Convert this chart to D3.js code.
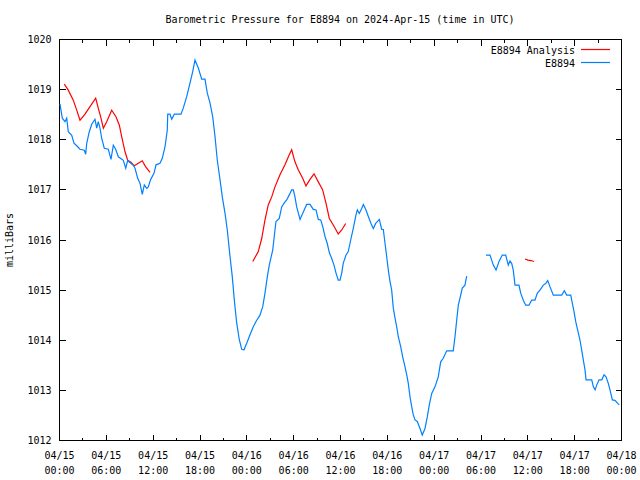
<!DOCTYPE html>
<html>
<head>
<meta charset="utf-8">
<script src="https://cdn.jsdelivr.net/npm/d3@7"></script>
<style>
  html, body { margin: 0; padding: 0; background: #fff; }
  svg { display: block; }
  text { font-family: "DejaVu Sans Mono", "Liberation Mono", monospace; font-size: 10px; fill: #000; }
</style>
</head>
<body>
<svg id="chart" width="640" height="480"></svg>
<script>
// ---- data (hours after 2024-04-15 00:00 UTC, pressure in mb) ----
const title = "Barometric Pressure for E8894 on 2024-Apr-15 (time in UTC)";
const yLabel = "milliBars";
const seriesNames = ["E8894 Analysis", "E8894"];
const seriesColors = ["#ff0000", "#0080ff"];
const yTicks = [1012, 1013, 1014, 1015, 1016, 1017, 1018, 1019, 1020];

const obsHours = [
  0.13,0.42,0.77,0.99,1.19,1.63,1.92,2.27,2.69,3.24,3.42,3.55,3.88,4.19,4.61,4.83,5.03,5.25,5.47,5.80,
  6.32,6.66,6.96,7.26,7.60,8.24,8.55,8.80,8.97,9.52,9.74,10.08,10.38,10.67,10.93,11.24,11.44,11.75,12.17,12.43,
  12.94,13.23,13.58,13.87,13.93,14.22,14.44,14.77,15.63,15.92,16.36,16.78,17.13,17.42,17.85,18.28,18.70,19.00,19.35,19.69,
  19.99,20.28,20.63,20.92,21.27,21.56,21.91,22.20,22.46,22.77,23.10,23.41,23.70,24.05,24.47,24.89,25.33,25.75,26.10,26.39,
  26.69,26.94,27.38,27.67,27.80,28.22,28.53,28.86,29.17,29.50,29.81,30.02,30.23,30.45,30.88,31.30,31.73,32.16,32.58,32.93,
  33.22,33.53,33.78,34.08,34.37,34.63,34.94,35.23,35.49,35.78,36.00,36.22,36.42,36.77,37.06,37.37,37.70,38.05,38.22,38.47,
  38.78,38.99,39.33,39.63,39.97,40.27,40.57,41.04,41.34,41.55,41.77,41.98,42.19,42.41,42.62,42.83,43.05,43.26,43.47,43.78,
  44.03,44.33,44.55,44.75,44.97,45.19,45.39,45.61,45.90,46.25,46.54,46.89,47.18,47.44,47.75,48.17,48.59,48.90,49.23,49.67,
  50.51,50.73,50.95,51.16,51.37,51.67,52.01,52.23,
  53.5,
  54.70,55.22,55.64,55.99,56.37,56.79,57.23,57.56,57.78,58.00,58.20,58.42,58.93,59.15,59.48,59.79,60.21,60.56,60.98,61.28,
  61.62,62.05,62.35,62.61,62.90,63.33,64.40,64.74,65.04,65.56,65.76,65.98,66.20,66.45,66.75,66.97,67.17,67.39,67.52,68.25,
  68.46,68.68,68.90,69.19,69.54,69.83,70.08,70.37,70.59,70.89,71.23,71.58,71.78
];
const obsValues = [
  1018.70,1018.42,1018.35,1018.42,1018.15,1018.08,1017.92,1017.87,1017.80,1017.78,1017.70,1017.92,1018.15,1018.30,1018.40,1018.22,1018.35,1018.22,1018.02,1017.82,
  1017.80,1017.60,1017.88,1017.80,1017.65,1017.58,1017.42,1017.58,1017.55,1017.48,1017.42,1017.22,1017.12,1016.90,1017.09,1017.02,1017.05,1017.20,1017.32,1017.49,
  1017.52,1017.62,1017.85,1018.18,1018.50,1018.50,1018.40,1018.50,1018.50,1018.62,1018.85,1019.12,1019.35,1019.58,1019.42,1019.20,1019.20,1018.92,1018.72,1018.45,
  1018.05,1017.58,1017.19,1016.85,1016.52,1016.19,1015.66,1015.26,1014.79,1014.33,1014.00,1013.81,1013.80,1013.93,1014.10,1014.26,1014.39,1014.49,1014.66,1014.93,
  1015.26,1015.49,1015.79,1016.19,1016.36,1016.42,1016.65,1016.73,1016.79,1016.89,1016.99,1016.99,1016.85,1016.65,1016.40,1016.55,1016.70,1016.70,1016.60,1016.59,
  1016.40,1016.39,1016.26,1016.06,1015.92,1015.74,1015.62,1015.49,1015.33,1015.19,1015.19,1015.33,1015.53,1015.69,1015.76,1015.99,1016.22,1016.49,1016.59,1016.52,
  1016.62,1016.70,1016.59,1016.46,1016.32,1016.22,1016.32,1016.40,1016.20,1016.20,1015.92,1015.66,1015.39,1015.16,1014.99,1014.63,1014.43,1014.26,1014.06,1013.86,
  1013.66,1013.46,1013.30,1013.13,1012.86,1012.66,1012.50,1012.40,1012.37,1012.23,1012.10,1012.23,1012.46,1012.70,1012.93,1013.06,1013.26,1013.56,1013.63,1013.78,
  1013.78,1014.06,1014.39,1014.69,1014.83,1015.03,1015.09,1015.27,
  null,
  1015.69,1015.69,1015.49,1015.39,1015.56,1015.69,1015.69,1015.49,1015.57,1015.52,1015.39,1015.09,1015.09,1014.93,1014.79,1014.69,1014.69,1014.79,1014.79,1014.93,
  1014.99,1015.09,1015.12,1015.18,1015.06,1014.89,1014.89,1014.98,1014.89,1014.89,1014.73,1014.56,1014.36,1014.19,1013.99,1013.79,1013.60,1013.40,1013.20,1013.20,
  1013.06,1013.00,1013.10,1013.20,1013.20,1013.30,1013.26,1013.13,1013.00,1012.80,1012.79,1012.73,1012.70
];

const anaHours = [
  0.68,1.19,1.83,2.27,2.69,3.33,3.97,4.70,5.03,5.38,5.68,6.11,6.75,7.30,7.73,8.03,8.46,8.80,9.22,9.65,10.16,10.67,11.11,11.66,
  18.0,
  24.82,25.53,25.97,26.39,26.81,27.25,27.67,28.31,28.95,29.50,29.81,30.23,30.65,31.22,31.64,32.16,32.67,33.22,33.78,34.21,34.63,35.14,35.78,36.22,36.73,
  48.0,
  59.70,60.09,60.47,60.85
];
const anaValues = [
  1019.10,1018.98,1018.78,1018.58,1018.38,1018.50,1018.65,1018.82,1018.62,1018.42,1018.22,1018.35,1018.58,1018.45,1018.28,1018.05,1017.75,1017.58,1017.54,1017.47,1017.52,1017.57,1017.45,1017.34,
  null,
  1015.56,1015.76,1016.02,1016.39,1016.69,1016.85,1017.05,1017.29,1017.49,1017.69,1017.79,1017.55,1017.39,1017.22,1017.07,1017.20,1017.31,1017.15,1016.99,1016.72,1016.42,1016.29,1016.11,1016.19,1016.32,
  null,
  1015.61,1015.59,1015.58,1015.56
];

// ---- layout ----
const L = 59, R = 621, T = 39, B = 440;
const start = Date.UTC(2024, 3, 15, 0, 0);
const toDate = h => new Date(start + h * 3600e3);

const svg = d3.select("#chart");
const x = d3.scaleUtc().domain([toDate(0), toDate(72)]).range([L, R]);
const y = d3.scaleLinear().domain([1012, 1020]).range([B, T]);

const minorTicks = d3.range(0, 73, 3).map(toDate);
const majorTicks = d3.range(0, 73, 6).map(toDate);
const fmtDate = d3.utcFormat("%m/%d"), fmtTime = d3.utcFormat("%H:%M");

// title
svg.append("text").attr("x", 340).attr("y", 23).attr("text-anchor", "middle").text(title);
// y label
svg.append("text").attr("transform", "translate(13,240) rotate(-90)").attr("text-anchor", "middle").text(yLabel);

const g = svg.append("g").attr("shape-rendering", "crispEdges");

// bottom axis (inward ticks)
const gx = g.append("g").attr("transform", `translate(0,${B + 0.5})`)
  .call(d3.axisBottom(x).tickValues(minorTicks).tickSizeInner(-3).tickSizeOuter(0).tickFormat(""));
gx.select(".domain").remove();
gx.selectAll(".tick line").attr("y2", d => (d.getUTCHours() % 6 === 0 ? -6 : -3));
const gxl = g.append("g").attr("transform", `translate(0,${B + 0.5})`)
  .call(d3.axisBottom(x).tickValues(majorTicks).tickSize(0).tickPadding(0).tickFormat(""));
gxl.select(".domain").remove();
gxl.selectAll(".tick text").each(function (d) {
  const t = d3.select(this).attr("y", 0).attr("dy", null);
  t.append("tspan").attr("x", 0).attr("y", 18).text(fmtDate(d));
  t.append("tspan").attr("x", 0).attr("y", 33).text(fmtTime(d));
});
gxl.selectAll(".tick text").attr("font-family", null).attr("font-size", null).attr("fill", "#000");

// top axis (mirror)
const gt = g.append("g").attr("transform", `translate(0,${T + 0.5})`)
  .call(d3.axisTop(x).tickValues(minorTicks).tickSizeOuter(0).tickFormat(""));
gt.select(".domain").remove();
gt.selectAll(".tick line").attr("y2", d => (d.getUTCHours() % 6 === 0 ? 6 : 3));

// left axis
const gy = g.append("g").attr("transform", `translate(${L + 0.5},0)`)
  .call(d3.axisLeft(y).tickValues(yTicks).tickSizeInner(-6).tickSizeOuter(0).tickPadding(8).tickFormat(d3.format("d")));
gy.select(".domain").remove();
gy.selectAll(".tick text").attr("font-family", null).attr("font-size", null).attr("fill", "#000").attr("dy", "0.35em");

// right axis
const gr = g.append("g").attr("transform", `translate(${R + 0.5},0)`)
  .call(d3.axisRight(y).tickValues(yTicks).tickSizeInner(-6).tickSizeOuter(0).tickFormat(""));
gr.select(".domain").remove();

g.selectAll(".tick line").attr("stroke", "#000");

// border
g.append("rect").attr("x", L + 0.5).attr("y", T + 0.5).attr("width", R - L).attr("height", B - T)
  .attr("fill", "none").attr("stroke", "#000");

// lines
const line = d3.line().defined(d => d[1] !== null).x(d => x(toDate(d[0]))).y(d => y(d[1]));
const anaData = anaHours.map((h, i) => [h, anaValues[i]]);
const obsData = obsHours.map((h, i) => [h, obsValues[i]]);

svg.append("path").datum(anaData).attr("d", line).attr("fill", "none")
  .attr("stroke", seriesColors[0]).attr("stroke-width", 1.2);
svg.append("path").datum(obsData).attr("d", line).attr("fill", "none")
  .attr("stroke", seriesColors[1]).attr("stroke-width", 1.2);

// legend
const legend = svg.append("g");
seriesNames.forEach((name, i) => {
  const yy = 50 + i * 13;
  legend.append("text").attr("x", 575).attr("y", yy).attr("dy", "0.35em").attr("text-anchor", "end").text(name);
  legend.append("line").attr("x1", 581).attr("x2", 610).attr("y1", yy - 0.5).attr("y2", yy - 0.5)
    .attr("stroke", seriesColors[i]).attr("stroke-width", 1.2);
});
</script>
</body>
</html>
